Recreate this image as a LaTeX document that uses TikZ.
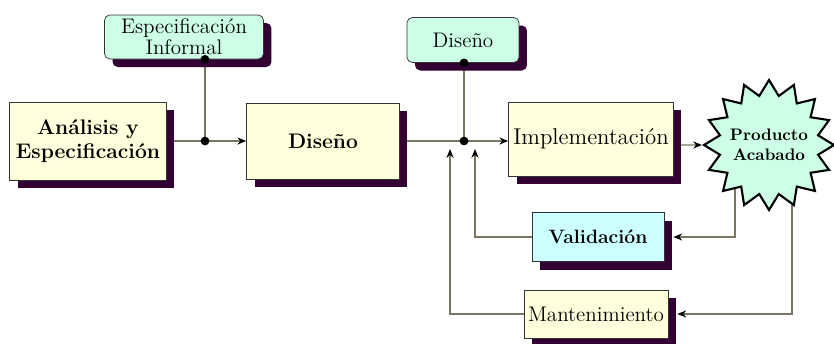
\documentclass[tikz,border=0pt]{standalone}
\usetikzlibrary{positioning,arrows.meta,shapes.geometric,shadows,backgrounds}
\definecolor{cream}{HTML}{FFFFDD}
\definecolor{mint}{HTML}{CCFFE6}
\definecolor{aqua}{HTML}{CCFFFF}
\definecolor{plum}{HTML}{330033}
\definecolor{wirec}{HTML}{7A7662}
\begin{document}
\begin{tikzpicture}[
  x=0.02cm, y=-0.02cm,
  every node/.style={align=center},
  box/.style={
    draw=black!80,
    fill=cream,
    font=\large\bfseries,
    drop shadow={shadow xshift=0.16cm, shadow yshift=-0.16cm, fill=plum, opacity=1}
  },
  note/.style={box, fill=mint, rounded corners=3pt, font=\large},
  wire/.style={draw=wirec, line width=0.8pt},
  arrow/.style={wire, -{Stealth[length=5pt, width=4pt, color=black]}},
  dot/.style={circle, fill=black, inner sep=0pt, minimum size=5pt}
  ]

  \useasboundingbox (0,0) rectangle (834,343);

  \node[box, minimum width=3.14cm, minimum height=1.56cm] (anal) at (88,141) {Análisis y\\Especificación};
  \node[note, minimum width=3.18cm, minimum height=0.88cm, inner sep=0pt] (espinf) at (184,37) {Especificación\\[-2pt]Informal};
  \node[box, minimum width=3.06cm, minimum height=1.52cm] (dis) at (323,141) {Diseño};
  \node[note, minimum width=2.24cm, minimum height=0.9cm] (disinf) at (463,40) {Diseño};
  \node[box, font=\fontsize{13}{15}\selectfont, minimum width=3.3cm, minimum height=1.48cm, inner sep=0pt] (impl) at (591,139) {Implementación};
  \node[star, star points=16, star point ratio=1.3, draw=black, very thick, fill=mint,
        minimum size=2.6cm, inner sep=-7pt, font=\fontsize{9.5}{11.5}\selectfont\bfseries] (prod) at (769,145) {Producto\\Acabado};
  \node[box, fill=aqua, font=\fontsize{11}{13}\selectfont\bfseries, minimum width=2.64cm, minimum height=0.98cm] (val) at (598,237) {Validación};
  \node[box, font=\large, minimum width=2.88cm, minimum height=0.96cm, inner sep=0pt] (mant) at (596,314) {Mantenimiento};

  \coordinate (j1) at (205,141);
  \coordinate (j2) at (464,141);
  \coordinate (up1) at (475,149);
  \coordinate (up2) at (450,149);
  \coordinate (s1) at (735,180);
  \coordinate (s2) at (792,180);

  \begin{scope}[on background layer]
    \draw[arrow] (anal.east) -- (dis.west);
    \draw[wire] (j1 |- espinf.south) -- (j1);
    \draw[arrow] (dis.east) -- (impl.west |- dis.east);
    \draw[wire] (j2 |- disinf.south) -- (j2);
    \draw[arrow] (impl.east |- prod) -- (prod);
    \draw[arrow] (s1) |- ([xshift=0.18cm]val.east);
    \draw[arrow] (s2) |- ([xshift=0.18cm]mant.east);
    \draw[arrow] (val.west) -| (up1);
    \draw[arrow] (mant.west) -| (up2);
  \end{scope}

  \node[dot] at (j1 |- espinf.south) {};
  \node[dot] at (j1) {};
  \node[dot] at (j2 |- disinf.south) {};
  \node[dot] at (j2) {};

\end{tikzpicture}
\end{document}
